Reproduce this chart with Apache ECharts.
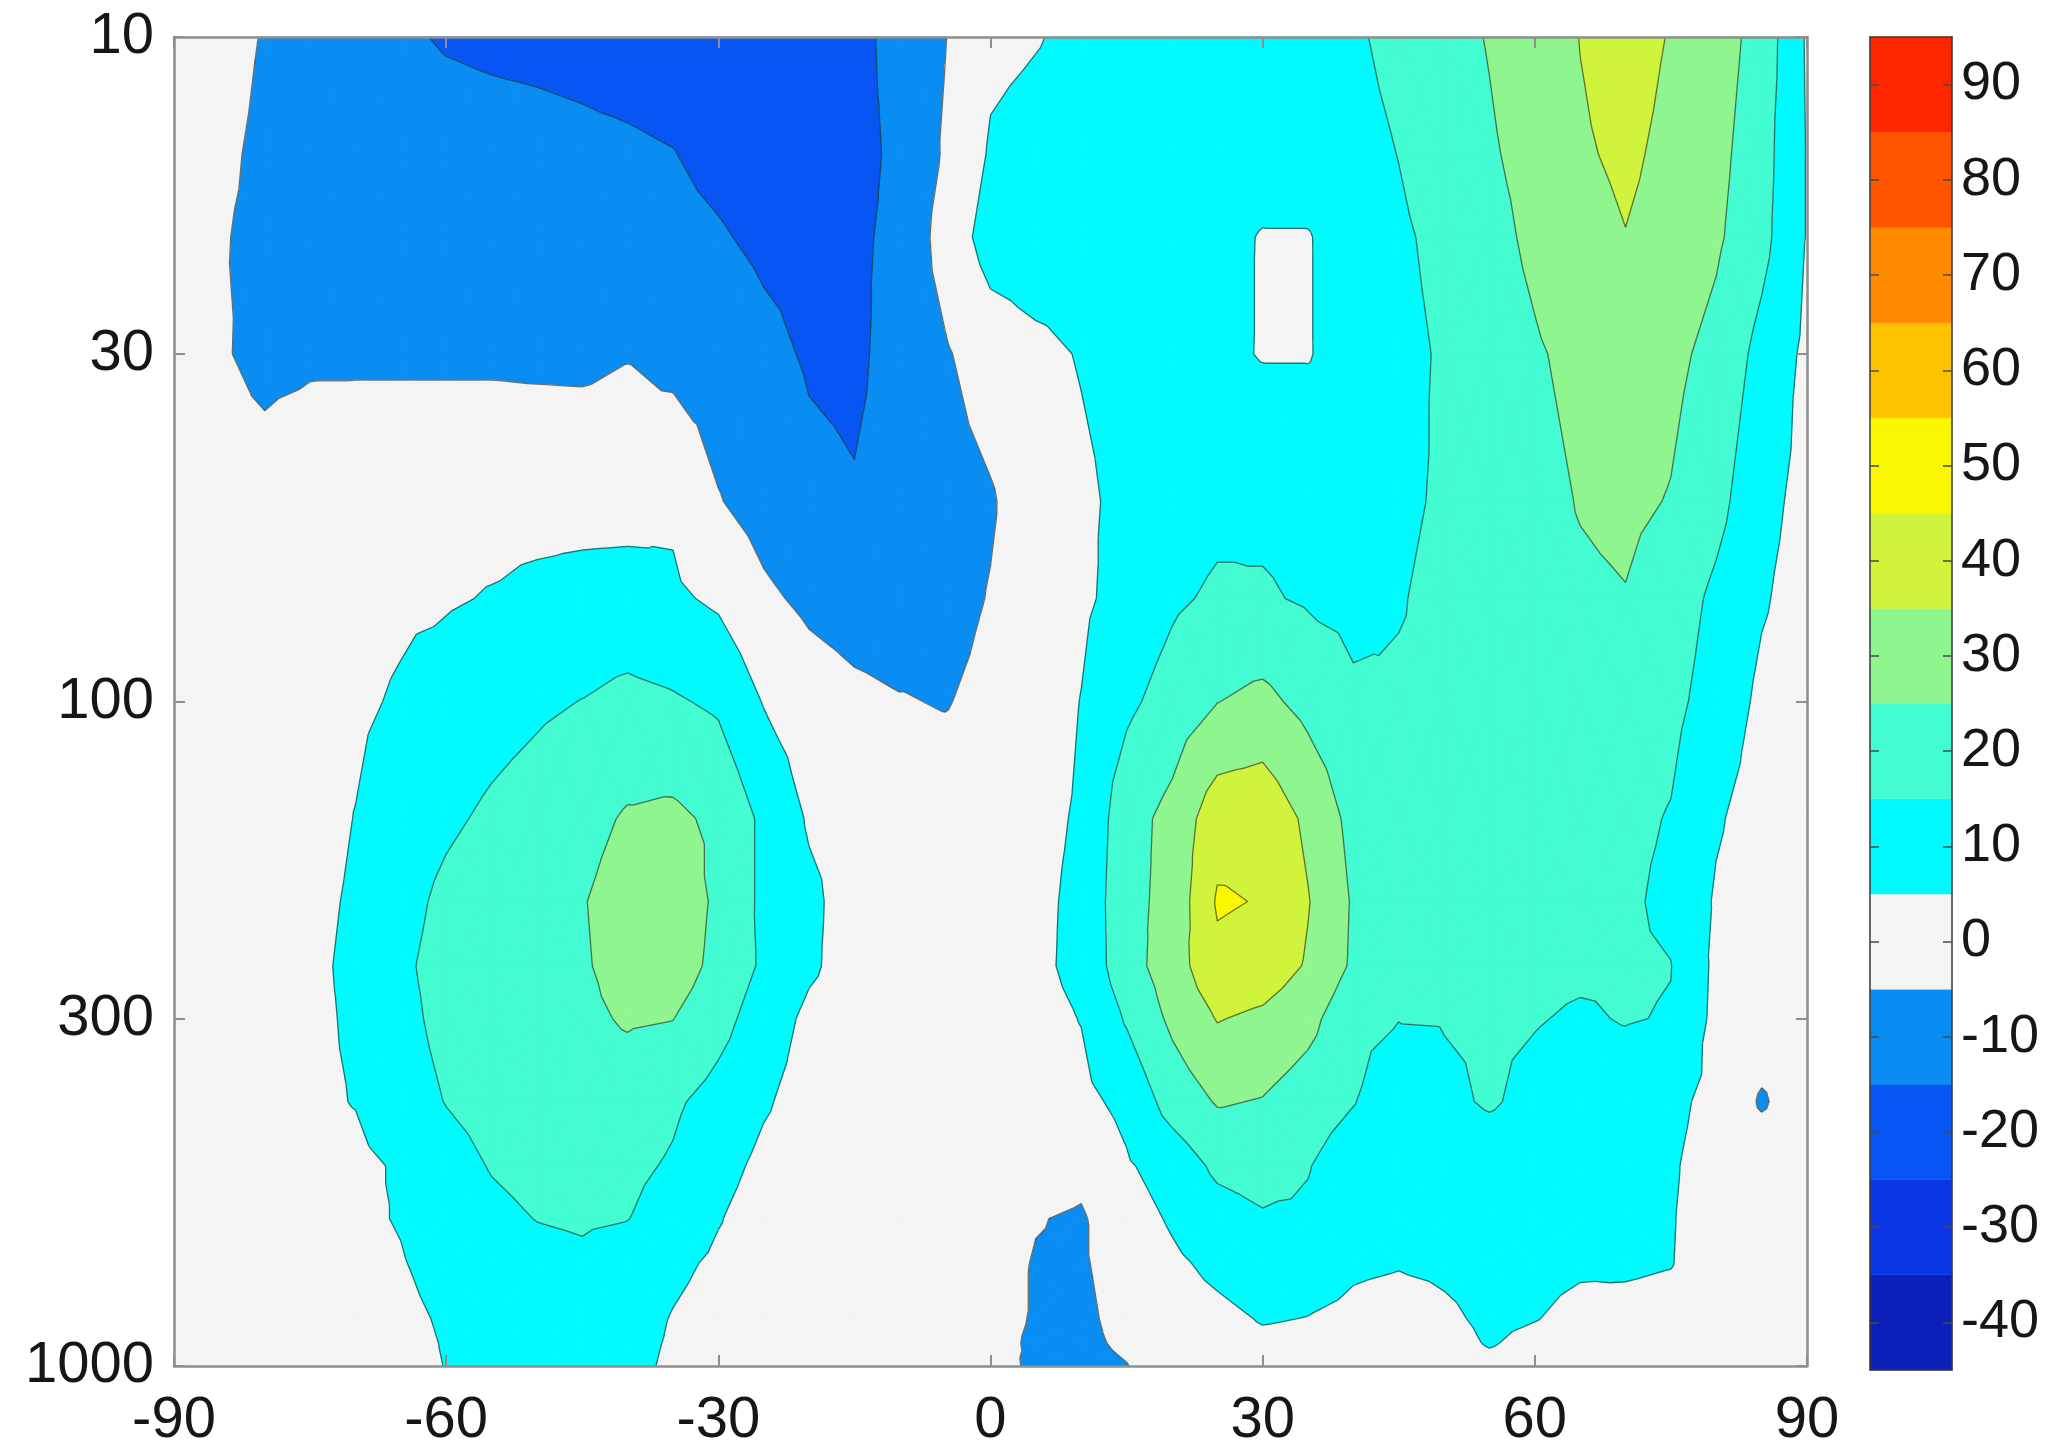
<!DOCTYPE html>
<html>
<head>
<meta charset="utf-8">
<title>Latitude–pressure section</title>
<script src="https://cdn.jsdelivr.net/npm/echarts@6.0.0/dist/echarts.min.js"></script>
<style>
  html, body { margin: 0; padding: 0; background: #ffffff; }
  #chart { width: 2050px; height: 1455px; }
</style>
</head>
<body>
<div id="chart"></div>
<script>
// Grid: latitude (deg) along x, pressure (hPa) along y
const latitudes = [-90, -85, -80, -75, -70, -65, -60, -55, -50, -45, -40, -35, -30, -25, -20, -15, -10, -5,
                   0, 5, 10, 15, 20, 25, 30, 35, 40, 45, 50, 55, 60, 65, 70, 75, 80, 85, 90];
const pressureLevels = [10, 15, 20, 30, 50, 70, 100, 150, 200, 250, 300, 400, 500, 600, 700, 850, 925, 1000];

// Field values, one row per pressure level (south -> north)
const p10   = [0, -2, -5.5, -10, -12, -14, -15.6, -16.2, -16.5, -17, -17.8, -18.5, -19, -19.5, -19.5, -18.5, -11, -5.3,
               3, 4.5, 7, 9, 10, 11, 11, 11.5, 13.5, 18, 22, 25.5, 30, 35.2, 38.5, 34.5, 30, 21, 4];
const p15   = [0, -3.5, -6.5, -9, -10, -11, -12, -12.5, -13, -13.5, -14, -14.8, -17, -19, -19.5, -18, -13, -4,
               6, 8, 9, 10, 10, 10, 9, 9.5, 11.5, 15.2, 20, 24, 28, 34, 36.5, 33, 28, 19, 4.5];
const p20   = [0, -4.5, -6.5, -8, -9, -9.5, -10, -10.5, -11, -11.5, -12, -13, -14.3, -16.5, -17.5, -16.5, -13, -1,
               9, 10, 10, 9.5, 9, 7.5, 4.5, 4.5, 9.5, 13.5, 17.5, 22, 27, 32, 34.8, 32, 26.5, 18, 4.5];
const p30   = [0, -4, -7.5, -6.5, -6.5, -6.5, -6.5, -6.5, -6.8, -7, -5.5, -8, -10, -13, -15.8, -16.5, -12, -6,
               0, 3, 5.5, 8, 8.5, 7, 4.5, 4.5, 9, 12.5, 16, 20, 24, 27.5, 30.5, 27.5, 22, 12, 3];
const p50   = [0, 0, -1, 1.5, 2, 2, 2, 2, 2, 2, 2, 3.5, -4.5, -9, -13, -14.4, -12, -9,
               -6, 1, 3.5, 7, 10, 12.5, 13, 12, 11.5, 13.5, 16, 19, 22, 25.5, 27, 24.5, 18, 8, 2];
const p70   = [0, 0, 0, 1, 2, 3.5, 4.2, 5.5, 7, 8, 8.5, 6.5, 3.5, -3.2, -7, -9, -10, -8.5,
               -4.5, 0, 3.5, 8, 13.5, 16.5, 16, 14, 12.5, 14.5, 17, 19.5, 22, 23.5, 24.6, 20, 13, 6, 1];
const p100  = [0, 0, 1, 2, 3.5, 6, 9, 11.5, 13.5, 15.2, 17.5, 16, 13.5, 4.5, -0.3, -3, -4.5, -5.5,
               -2.5, 0.5, 5.2, 13, 19, 24.8, 27.5, 22, 16.5, 16, 16.5, 17.5, 19, 19.5, 19.5, 17.5, 11, 3, 0];
const p150  = [0, 0.5, 1, 2, 5.2, 10, 13.5, 16.5, 19, 22, 26, 27, 23, 13, 4, 1.5, 0, 0,
               0, 2.5, 6, 21, 28, 41, 42, 33, 22, 18.5, 17, 17, 17.5, 17.5, 17, 14.5, 6, 1, 0];
const p200  = [0, 0.5, 1.5, 3, 6, 12, 17, 20, 22.5, 24.5, 29, 32, 23, 13, 7, 1, 0, 0,
               0, 3, 7, 22, 28, 46, 44.5, 35.5, 24, 19, 17.5, 17.5, 17.5, 17, 16.5, 13, 4, 0.5, 0];
const p250  = [0, 0.5, 1.5, 3.5, 6.5, 13.5, 18, 20.5, 22, 24, 28.5, 30.5, 22, 13.5, 6.5, 1, 0, 0,
               0, 3, 7.5, 21, 30, 42.7, 41, 34, 23.5, 18.5, 17.5, 17, 17, 16.5, 16, 15.2, 3, 0.5, 0];
const p300  = [0, 0.5, 1.5, 3.5, 6, 12.5, 17.5, 20, 21.5, 23, 26, 25.2, 18.5, 10, 3, 0.5, 0, 0,
               0, 2, 5.3, 16, 27, 35.5, 33, 28, 18, 15.3, 15.5, 16, 15.5, 14, 15.5, 14.5, 2.5, 0, 0];
const p400  = [0, 0.5, 1.5, 3.5, 5.3, 11, 15.3, 18, 19.5, 20, 20, 16.5, 11.5, 6, 1.5, 0, 0, 0,
               0, 0.5, 2.5, 7.5, 19, 25.8, 24.5, 20, 15.5, 8, 13, 16, 12.5, 10.5, 10, 7.5, 2, -6, 0];
const p500  = [0, 0.5, 1.5, 2.5, 3, 6, 11.5, 15.5, 17.5, 18, 17, 14, 8, 3, 0.5, 0, 0, 0,
               0, -0.5, -2.5, 4, 9, 17, 19, 15.5, 9, 7.5, 9, 10, 9.5, 9, 8.5, 6, 1, 0, 0];
const p600  = [0, 0.5, 1, 2, 3.5, 5.5, 9.5, 13, 15.2, 16, 15.2, 11, 5.5, 1, 0, 0, 0, 0,
               -1, -4.6, -6, 1, 6, 11, 14, 13.5, 9, 7, 7.5, 8, 8, 8, 7.5, 5.5, 1, 0, 0];
const p700  = [0, 0.5, 1, 1.5, 2.5, 4.5, 8, 10.5, 12.5, 13.5, 11, 7, 3.5, 1, 0, 0, 0, 0,
               -2, -5.5, -6, -1, 3.5, 7, 9.5, 8.5, 6, 5.4, 6, 7, 6.5, 5.8, 6, 5.3, 1, 0, 0];
const p850  = [0, 0, 0.5, 1, 1.5, 3, 6, 8.5, 10, 10.5, 9, 4.5, 1.5, 0, 0, 0, 0, -1,
               -3, -5.5, -7, -2, 1, 3, 5.5, 4.8, 3.5, 2.5, 4, 6, 5.2, 3.5, 3, 2.5, 0.5, 0, 0];
const p925  = [0, 0, 0.5, 1, 1.5, 2.5, 5.5, 7.5, 9, 9.5, 8, 4, 1, 0, 0, 0, 0, -1,
               -3, -6, -7, -3.5, 0.5, 2, 3.5, 3, 2, 1.5, 3, 5.4, 3.5, 2.5, 2.5, 2, 0.5, 0, 0];
const p1000 = [0, 0, 0.5, 1, 1.5, 2.5, 5.2, 7, 8.5, 9, 7.5, 3.5, 1, 0, 0, 0, 0, -1,
               -2, -6.5, -8, -5.3, 0, 1.5, 2.5, 2.5, 1.5, 1, 2, 3.5, 2.5, 1.5, 1.5, 1, 0.5, 0, 0];
const fieldRows = [p10, p15, p20, p30, p50, p70, p100, p150, p200, p250, p300, p400, p500, p600, p700, p850, p925, p1000];

// Filled-contour levels and the colour of each band between them
const contourLevels = [-45, -35, -25, -15, -5, 5, 15, 25, 35, 45, 55, 65, 75, 85, 95];
const bandColors = ['#0b20b8', '#0a36e6', '#0756f4', '#0a8df2', '#f4f4f4', '#00fbff', '#43fcd1',
                    '#8ff68f', '#d0f33c', '#fbf700', '#ffc200', '#ff8a00', '#ff5500', '#ff2600'];

// Tick labels
const latTicks = [-90, -60, -30, 0, 30, 60, 90];
const pressureTicks = [10, 30, 100, 300, 1000];
const colorbarTicks = [-40, -30, -20, -10, 0, 10, 20, 30, 40, 50, 60, 70, 80, 90];

const FONT = 'Liberation Sans, Arial, Helvetica, sans-serif';
const logP = p => Math.log10(p);

// One data item per grid cell: lower corner position plus its indices
const cells = [];
for (let j = 0; j < pressureLevels.length - 1; j++) {
  for (let i = 0; i < latitudes.length - 1; i++) {
    cells.push([latitudes[i], logP(pressureLevels[j]), i, j]);
  }
}
const bands = contourLevels.slice(0, -1).map((lo, k) => [0, lo, contourLevels[k + 1], k]);

// Split a cell into four triangles around its centre (values linear inside each)
function cellTriangles(api, i, j) {
  const corners = [[i, j], [i + 1, j], [i + 1, j + 1], [i, j + 1]].map(([a, b]) => {
    const pt = api.coord([latitudes[a], logP(pressureLevels[b])]);
    return { x: pt[0], y: pt[1], v: fieldRows[b][a] };
  });
  const c = {
    x: (corners[0].x + corners[1].x + corners[2].x + corners[3].x) / 4,
    y: (corners[0].y + corners[1].y + corners[2].y + corners[3].y) / 4,
    v: (corners[0].v + corners[1].v + corners[2].v + corners[3].v) / 4
  };
  return [[corners[0], corners[1], c], [corners[1], corners[2], c],
          [corners[2], corners[3], c], [corners[3], corners[0], c]];
}

// Keep the part of a polygon above (or below) a level
function clipAt(poly, level, keepAbove) {
  const out = [];
  const n = poly.length;
  for (let k = 0; k < n; k++) {
    const a = poly[k], b = poly[(k + 1) % n];
    const aIn = keepAbove ? a.v >= level : a.v < level;
    const bIn = keepAbove ? b.v >= level : b.v < level;
    if (aIn) out.push(a);
    if (aIn !== bIn) {
      const t = (level - a.v) / (b.v - a.v);
      out.push({ x: a.x + t * (b.x - a.x), y: a.y + t * (b.y - a.y), v: level });
    }
  }
  return out;
}

function renderFill(params, api) {
  const i = api.value(2), j = api.value(3);
  const children = [];
  for (const tri of cellTriangles(api, i, j)) {
    const vmin = Math.min(tri[0].v, tri[1].v, tri[2].v);
    const vmax = Math.max(tri[0].v, tri[1].v, tri[2].v);
    for (let b = 0; b < bandColors.length; b++) {
      const lo = contourLevels[b], hi = contourLevels[b + 1];
      if (vmax < lo || vmin >= hi) continue;
      const poly = clipAt(clipAt(tri, lo, true), hi, false);
      if (poly.length < 3) continue;
      children.push({
        type: 'polygon',
        shape: { points: poly.map(p => [p.x, p.y]) },
        style: { fill: bandColors[b], stroke: bandColors[b], lineWidth: 0.9 }
      });
    }
  }
  return { type: 'group', children };
}

function renderLines(params, api) {
  const i = api.value(2), j = api.value(3);
  const children = [];
  const inner = contourLevels.slice(1, -1);
  for (const tri of cellTriangles(api, i, j)) {
    for (const L of inner) {
      const pts = [];
      for (let k = 0; k < 3; k++) {
        const a = tri[k], b = tri[(k + 1) % 3];
        if ((a.v >= L) !== (b.v >= L)) {
          const t = (L - a.v) / (b.v - a.v);
          pts.push([a.x + t * (b.x - a.x), a.y + t * (b.y - a.y)]);
        }
      }
      if (pts.length === 2) {
        children.push({
          type: 'line',
          shape: { x1: pts[0][0], y1: pts[0][1], x2: pts[1][0], y2: pts[1][1] },
          style: { stroke: 'rgba(25,35,30,0.62)', lineWidth: 1.3 }
        });
      }
    }
  }
  return { type: 'group', children };
}

function renderBand(params, api) {
  const lo = api.value(1), hi = api.value(2), k = api.value(3);
  const p0 = api.coord([0, lo]);
  const p1 = api.coord([1, hi]);
  return {
    type: 'rect',
    shape: { x: p0[0], y: p1[1], width: p1[0] - p0[0], height: p0[1] - p1[1] },
    style: { fill: bandColors[k], stroke: bandColors[k], lineWidth: 0.5 }
  };
}

const frame = { show: true, onZero: false, lineStyle: { color: '#8e8e8e', width: 2.5 } };
const barFrame = { show: true, onZero: false, lineStyle: { color: '#3a3a3a', width: 1.5 } };
const innerTick = { show: true, inside: true, length: 11, lineStyle: { color: '#8e8e8e', width: 2 } };
const logTicks = pressureTicks.map(logP);

const chart = echarts.init(document.getElementById('chart'), null, { renderer: 'canvas' });
chart.setOption({
  backgroundColor: '#ffffff',
  animation: false,
  grid: [
    { left: 174, top: 37, width: 1633, height: 1329, show: true, backgroundColor: '#f4f4f4', borderWidth: 0 },
    { left: 1870, top: 37, width: 82, height: 1333, show: false }
  ],
  xAxis: [
    { gridIndex: 0, type: 'value', min: -90, max: 90, interval: 30, position: 'bottom', z: 10,
      axisLine: frame, axisTick: innerTick, splitLine: { show: false },
      axisLabel: { customValues: latTicks, fontSize: 58, fontFamily: FONT, color: '#161616', margin: 26 } },
    { gridIndex: 0, type: 'value', min: -90, max: 90, interval: 30, position: 'top', z: 10,
      axisLine: frame, axisTick: innerTick, splitLine: { show: false }, axisLabel: { show: false } },
    { gridIndex: 1, type: 'value', min: 0, max: 1, position: 'bottom', z: 10,
      axisLine: barFrame, axisTick: { show: false }, axisLabel: { show: false }, splitLine: { show: false } },
    { gridIndex: 1, type: 'value', min: 0, max: 1, position: 'top', z: 10,
      axisLine: barFrame, axisTick: { show: false }, axisLabel: { show: false }, splitLine: { show: false } }
  ],
  yAxis: [
    { gridIndex: 0, type: 'value', min: 1, max: 3, inverse: true, position: 'left', z: 10,
      axisLine: frame, splitLine: { show: false },
      axisTick: Object.assign({ customValues: logTicks }, innerTick),
      axisLabel: { customValues: logTicks, fontSize: 58, fontFamily: FONT, color: '#161616', margin: 20,
                   formatter: v => String(Math.round(Math.pow(10, v))) } },
    { gridIndex: 0, type: 'value', min: 1, max: 3, inverse: true, position: 'right', z: 10,
      axisLine: frame, splitLine: { show: false },
      axisTick: Object.assign({ customValues: logTicks }, innerTick),
      axisLabel: { show: false } },
    { gridIndex: 1, type: 'value', min: -45, max: 95, position: 'right', z: 10,
      axisLine: barFrame, splitLine: { show: false },
      axisTick: { show: true, inside: true, length: 9, customValues: colorbarTicks,
                  lineStyle: { color: '#4a4a4a', width: 1.5 } },
      axisLabel: { customValues: colorbarTicks, fontSize: 54, fontFamily: FONT, color: '#161616', margin: 9 } },
    { gridIndex: 1, type: 'value', min: -45, max: 95, position: 'left', z: 10,
      axisLine: barFrame, splitLine: { show: false },
      axisTick: { show: true, inside: true, length: 9, customValues: colorbarTicks,
                  lineStyle: { color: '#4a4a4a', width: 1.5 } },
      axisLabel: { show: false } }
  ],
  series: [
    { type: 'custom', name: 'fill', xAxisIndex: 0, yAxisIndex: 0, z: 2, silent: true,
      data: cells, encode: { x: 0, y: 1 }, renderItem: renderFill },
    { type: 'custom', name: 'contours', xAxisIndex: 0, yAxisIndex: 0, z: 3, silent: true,
      data: cells, encode: { x: 0, y: 1 }, renderItem: renderLines },
    { type: 'custom', name: 'colorbar', xAxisIndex: 2, yAxisIndex: 2, z: 2, silent: true,
      data: bands, encode: { x: 0, y: 1 }, renderItem: renderBand }
  ]
});
</script>
</body>
</html>
